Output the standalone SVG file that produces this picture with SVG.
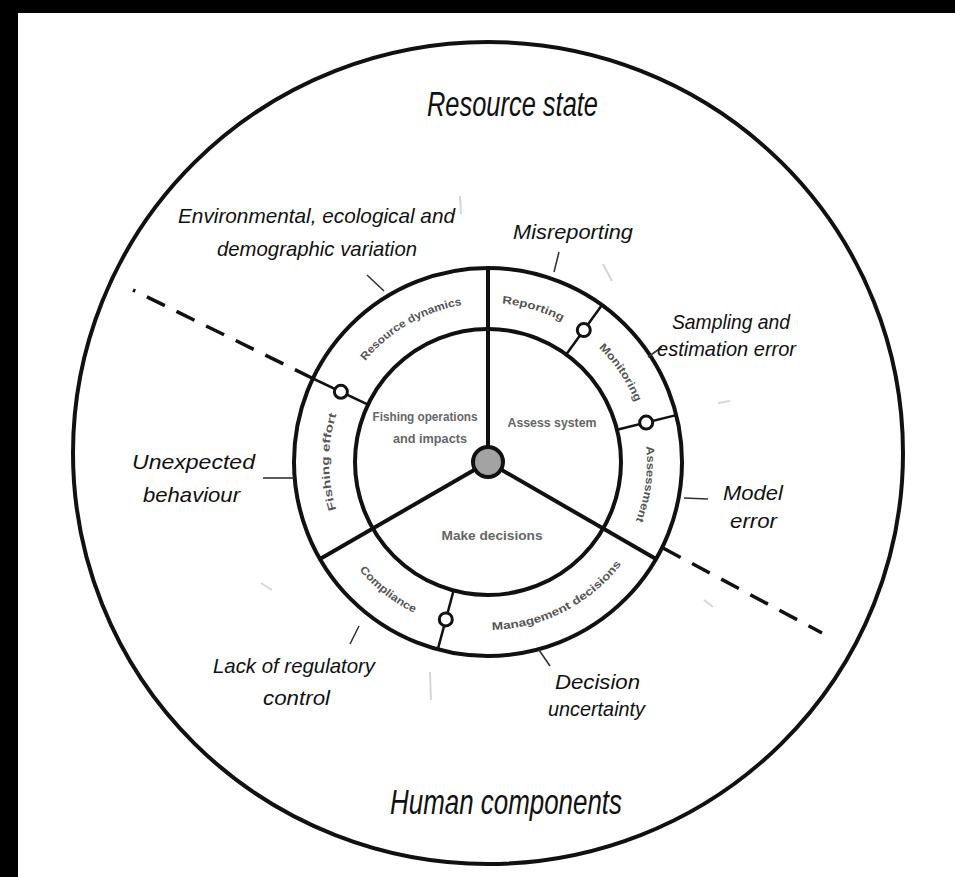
<svg xmlns="http://www.w3.org/2000/svg" width="955" height="877" viewBox="0 0 955 877">
<style>
.ln{fill:none;stroke:#111;stroke-width:4}
.dv{fill:none;stroke:#111;stroke-width:2.5}
.ld{fill:none;stroke:#333;stroke-width:1.6}
.ghost{fill:none;stroke:#d6d6d6;stroke-width:2}
.dash{fill:none;stroke:#111;stroke-width:3.5;stroke-dasharray:20 13}
.knob{fill:#fff;stroke:#111;stroke-width:3}
.lab{font-family:"Liberation Sans",Arial,sans-serif;font-style:italic;font-size:21px;fill:#111}
.title{font-family:"Liberation Sans",Arial,sans-serif;font-style:italic;font-size:35px;fill:#111}
.band{font-family:"Liberation Sans",Arial,sans-serif;font-weight:bold;font-size:11px;fill:#555}
.inner{font-family:"Liberation Sans",Arial,sans-serif;font-weight:bold;font-size:12px;fill:#666}
</style>
<defs>
<path id="pa" d="M450.6,307.5 A159,159 0 0 1 603.1,352.4"/>
<path id="pb" d="M557.7,319.1 A159,159 0 0 1 646.6,450.9"/>
<path id="pc" d="M635.4,402.4 A159,159 0 0 1 613.3,559.9"/>
<path id="pd" d="M450.2,625.7 A168,168 0 0 0 642.6,527.6"/>
<path id="pe" d="M332.2,524.9 A168,168 0 0 0 464.6,628.4"/>
<path id="pf" d="M350.3,541.5 A159,159 0 0 1 350.3,382.5"/>
<path id="pg" d="M338.6,407.6 A159,159 0 0 1 515.6,305.4"/>
</defs>
<rect x="0" y="0" width="955" height="877" fill="#fff"/>
<rect x="0" y="0" width="955" height="13" fill="#000"/>
<rect x="0" y="0" width="18" height="877" fill="#000"/>

<g id="faint-marks">
<line class="ghost" x1="460" y1="196" x2="461" y2="214"/>
<line class="ghost" x1="603" y1="264" x2="612" y2="281"/>
<line class="ghost" x1="718" y1="403" x2="730" y2="401"/>
<line class="ghost" x1="261" y1="583" x2="272" y2="590"/>
<line class="ghost" x1="430" y1="672" x2="431" y2="700"/>
<line class="ghost" x1="704" y1="600" x2="713" y2="607"/>
</g>

<g id="outer-circle">
<ellipse class="ln" cx="488" cy="453" rx="415" ry="411"/>
</g>

<g id="ring">
<circle class="ln" cx="488" cy="462" r="194"/>
<circle class="ln" cx="488" cy="462" r="133"/>
</g>

<g id="spokes">
<line class="ln" x1="488" y1="462" x2="488" y2="268"/>
<line class="ln" x1="488" y1="462" x2="656" y2="559"/>
<line class="ln" x1="488" y1="462" x2="320" y2="559"/>
</g>

<g id="dividers">
<line class="dv" x1="368" y1="404.7" x2="312.9" y2="378.5"/>
<circle class="knob" cx="340.9" cy="391.8" r="6.5"/>
<line class="dv" x1="566.2" y1="354.4" x2="602" y2="305.1"/>
<circle class="knob" cx="583.8" cy="330.1" r="6.5"/>
<line class="dv" x1="617" y1="429.8" x2="676.2" y2="415.1"/>
<circle class="knob" cx="646.2" cy="422.6" r="6.5"/>
<line class="dv" x1="453.6" y1="590.5" x2="437.8" y2="649.4"/>
<circle class="knob" cx="445.8" cy="619.4" r="6.5"/>
</g>

<g id="hub">
<circle cx="488" cy="462" r="15" fill="#a3a3a3" stroke="#111" stroke-width="4"/>
</g>

<g id="connectors">
<line class="dash" x1="312.9" y1="378.5" x2="133" y2="290"/>
<line class="dash" x1="663" y1="548" x2="822" y2="633"/>
<line class="ld" x1="367" y1="275" x2="384" y2="291"/>
<line class="ld" x1="559" y1="252" x2="554" y2="272"/>
<line class="ld" x1="648" y1="357" x2="662" y2="347"/>
<line class="ld" x1="684" y1="498" x2="708" y2="499"/>
<line class="ld" x1="263" y1="478" x2="294" y2="478"/>
<line class="ld" x1="350" y1="644" x2="359" y2="626"/>
<line class="ld" x1="539" y1="650" x2="550" y2="666"/>
</g>

<g id="band-labels">
<text class="band"><textPath href="#pa" startOffset="50%" text-anchor="middle" textLength="63" lengthAdjust="spacingAndGlyphs">Reporting</textPath></text>
<text class="band"><textPath href="#pb" startOffset="50%" text-anchor="middle" textLength="66" lengthAdjust="spacingAndGlyphs">Monitoring</textPath></text>
<text class="band"><textPath href="#pc" startOffset="50%" text-anchor="middle" textLength="76" lengthAdjust="spacingAndGlyphs">Assessment</textPath></text>
<text class="band"><textPath href="#pd" startOffset="50%" text-anchor="middle" textLength="150" lengthAdjust="spacingAndGlyphs">Management decisions</textPath></text>
<text class="band"><textPath href="#pe" startOffset="50%" text-anchor="middle" textLength="70" lengthAdjust="spacingAndGlyphs">Compliance</textPath></text>
<text class="band"><textPath href="#pf" startOffset="50%" text-anchor="middle" textLength="97" lengthAdjust="spacingAndGlyphs">Fishing effort</textPath></text>
<text class="band"><textPath href="#pg" startOffset="50%" text-anchor="middle" textLength="114" lengthAdjust="spacingAndGlyphs">Resource dynamics</textPath></text>
</g>

<g id="inner-labels">
<text class="inner" x="425" y="421" text-anchor="middle" textLength="105" lengthAdjust="spacingAndGlyphs">Fishing operations</text>
<text class="inner" x="430" y="443" text-anchor="middle" textLength="74" lengthAdjust="spacingAndGlyphs">and impacts</text>
<text class="inner" x="552" y="427" text-anchor="middle" textLength="89" lengthAdjust="spacingAndGlyphs">Assess system</text>
<text class="inner" x="492" y="540" text-anchor="middle" textLength="101" lengthAdjust="spacingAndGlyphs">Make decisions</text>
</g>

<g id="resource-state"><text class="title" x="427" y="116" textLength="171" lengthAdjust="spacingAndGlyphs">Resource state</text></g>
<g id="human-components"><text class="title" x="390" y="814" textLength="232" lengthAdjust="spacingAndGlyphs">Human components</text></g>
<g id="env-variation">
<text class="lab" x="178" y="223" textLength="277" lengthAdjust="spacingAndGlyphs">Environmental, ecological and</text>
<text class="lab" x="217" y="256" textLength="200" lengthAdjust="spacingAndGlyphs">demographic variation</text>
</g>
<g id="misreporting"><text class="lab" x="513" y="239" textLength="120" lengthAdjust="spacingAndGlyphs">Misreporting</text></g>
<g id="sampling">
<text class="lab" x="672" y="329" textLength="118" lengthAdjust="spacingAndGlyphs">Sampling and</text>
<text class="lab" x="657" y="356" textLength="139" lengthAdjust="spacingAndGlyphs">estimation error</text>
</g>
<g id="model-error">
<text class="lab" x="723" y="500" textLength="60" lengthAdjust="spacingAndGlyphs">Model</text>
<text class="lab" x="730" y="528" textLength="47" lengthAdjust="spacingAndGlyphs">error</text>
</g>
<g id="unexpected">
<text class="lab" x="132" y="469" textLength="123" lengthAdjust="spacingAndGlyphs">Unexpected</text>
<text class="lab" x="143" y="502" textLength="97" lengthAdjust="spacingAndGlyphs">behaviour</text>
</g>
<g id="regulatory">
<text class="lab" x="213" y="673" textLength="162" lengthAdjust="spacingAndGlyphs">Lack of regulatory</text>
<text class="lab" x="263" y="705" textLength="67" lengthAdjust="spacingAndGlyphs">control</text>
</g>
<g id="decision">
<text class="lab" x="555" y="689" textLength="85" lengthAdjust="spacingAndGlyphs">Decision</text>
<text class="lab" x="548" y="716" textLength="97" lengthAdjust="spacingAndGlyphs">uncertainty</text>
</g>
</svg>
